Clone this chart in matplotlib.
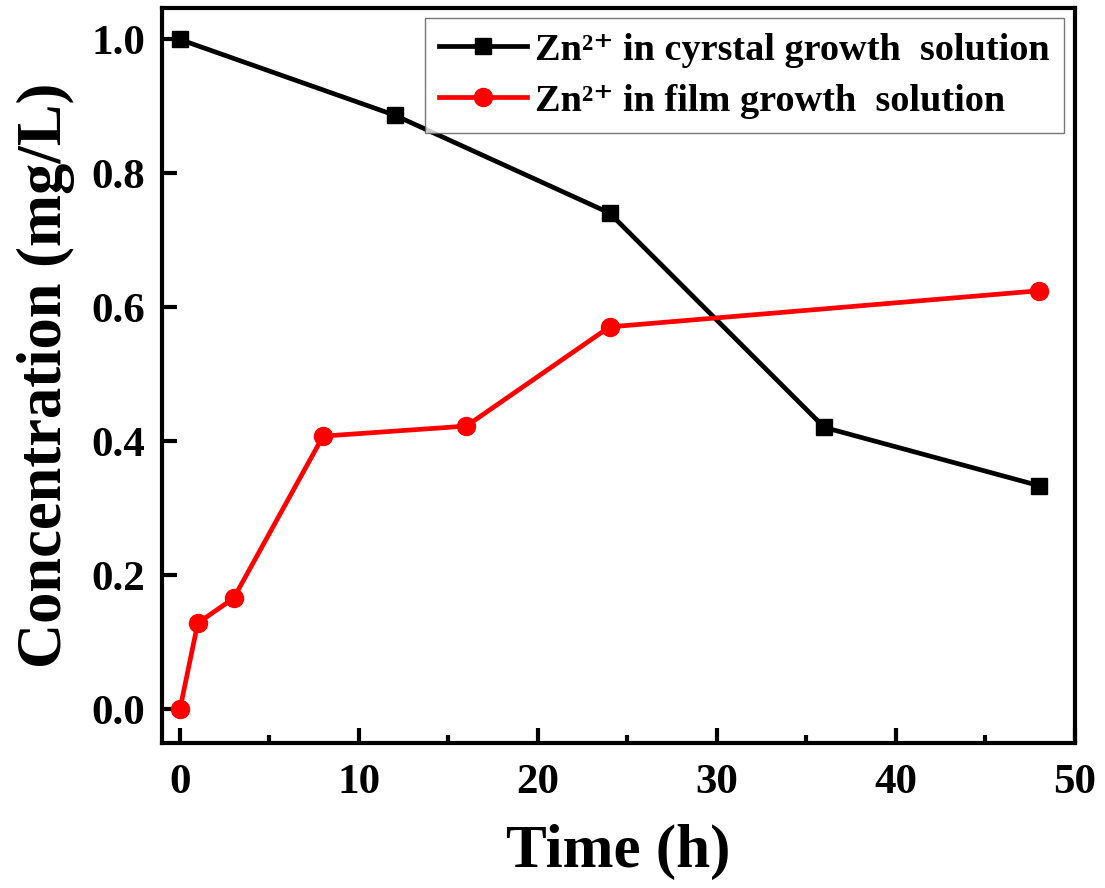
import matplotlib
matplotlib.use('Agg')
import matplotlib.pyplot as plt
from matplotlib.ticker import MultipleLocator

# Zn2+ concentration vs time
crystal_time = [0, 12, 24, 36, 48]
crystal_conc = [1.0, 0.887, 0.741, 0.421, 0.334]

film_time = [0, 1, 3, 8, 16, 24, 48]
film_conc = [0.0, 0.129, 0.166, 0.408, 0.423, 0.571, 0.625]

plt.rcParams['font.family'] = ['Liberation Serif', 'DejaVu Serif']
plt.rcParams['font.weight'] = 'bold'

fig = plt.figure(figsize=(11.05, 8.88), dpi=100)
ax = fig.add_axes([0.1466, 0.1633, 0.8262, 0.8277])

ax.plot(crystal_time, crystal_conc, color='black', lw=3.4, marker='s', ms=11,
        label='Zn\u00b2\u207a in cyrstal growth  solution')
ax.plot(film_time, film_conc, color='red', lw=3.4, marker='o', ms=13,
        label='Zn\u00b2\u207a in film growth  solution')

ax.set_xlim(-1, 50)
ax.set_ylim(-0.05, 1.047)
ax.xaxis.set_major_locator(MultipleLocator(10))
ax.xaxis.set_minor_locator(MultipleLocator(5))
ax.yaxis.set_major_locator(MultipleLocator(0.2))
ax.yaxis.set_major_formatter(plt.FormatStrFormatter('%.1f'))

for s in ax.spines.values():
    s.set_linewidth(3)
ax.tick_params(which='major', direction='in', length=11, width=3,
               labelsize=31, top=False, right=False)
ax.tick_params(axis='x', pad=15)
ax.tick_params(axis='y', pad=12)
ax.tick_params(which='minor', direction='in', length=6, width=3,
               top=False, right=False)
for lab in ax.get_xticklabels() + ax.get_yticklabels():
    lab.set_fontweight('bold')

ax.set_xlabel('Time (h)', fontsize=44, fontweight='bold', labelpad=16)
ax.set_ylabel('Concentration (mg/L)', fontsize=45, fontweight='bold', labelpad=12)

leg = ax.legend(loc='upper right', bbox_to_anchor=(1064 / 1105, 1 - 18 / 888),
                bbox_transform=fig.transFigure, borderaxespad=0,
                fontsize=27.5, frameon=True, fancybox=False,
                handlelength=2.3, handletextpad=0.2, borderpad=0.38,
                labelspacing=0.42)
leg.get_frame().set_edgecolor('#555555')
leg.get_frame().set_linewidth(1)

fig.savefig('out.png', dpi=100)
